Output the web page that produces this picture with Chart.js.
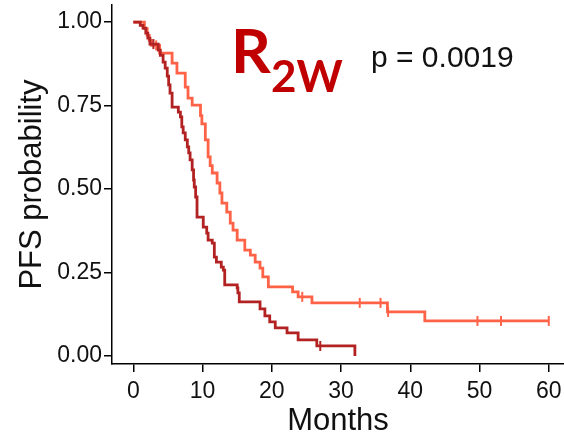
<!DOCTYPE html>
<html>
<head>
<meta charset="utf-8">
<script src="https://cdn.jsdelivr.net/npm/chart.js@4.4.0/dist/chart.umd.min.js"></script>
<style>
  body { margin: 0; background: #fff; }
  canvas { display: block; }
</style>
</head>
<body>
<canvas id="km" width="564" height="438"></canvas>
<script>
// Groupe 1 (rouge foncé) : temps des événements (mois) et survie sans progression
const moisA = [0, 1.0, 1.4, 1.8, 2.1, 2.4, 3.6, 3.9, 4.3, 4.6, 4.9, 5.1, 5.3, 5.6, 6.5, 6.8, 7.0, 7.2, 7.5, 7.8, 8.0, 8.2, 8.5, 8.7, 8.8, 9.0, 9.2, 10.1, 10.6, 10.8, 11.4, 11.7, 12.0, 12.7, 13.0, 13.2, 15.0, 15.1, 15.3, 18.3, 19.0, 19.7, 20.5, 22.2, 23.8, 26.5, 32.0];
const survieA = [1.0, 0.99, 0.982, 0.967, 0.952, 0.934, 0.916, 0.90, 0.88, 0.862, 0.838, 0.812, 0.787, 0.745, 0.73, 0.716, 0.686, 0.668, 0.647, 0.626, 0.608, 0.587, 0.557, 0.527, 0.506, 0.476, 0.416, 0.386, 0.368, 0.347, 0.338, 0.296, 0.281, 0.266, 0.257, 0.213, 0.204, 0.189, 0.162, 0.141, 0.12, 0.102, 0.084, 0.069, 0.048, 0.03, 0.0];
const censureMoisA = [2.9, 27.0];
const censureSurvieA = [0.934, 0.03];

// Groupe 2 (orange)
const moisB = [0, 1.6, 2.0, 2.3, 2.6, 3.8, 5.6, 6.3, 7.5, 7.9, 8.5, 9.7, 9.9, 10.4, 10.8, 11.1, 11.4, 12.1, 12.5, 12.8, 13.5, 14.0, 14.4, 15.0, 16.1, 16.9, 17.6, 18.3, 18.7, 19.5, 23.0, 23.8, 25.8, 36.7, 42.1, 60.0];
const survieB = [1.0, 0.98, 0.96, 0.945, 0.93, 0.907, 0.877, 0.847, 0.805, 0.772, 0.751, 0.72, 0.695, 0.647, 0.596, 0.57, 0.548, 0.518, 0.488, 0.458, 0.431, 0.398, 0.377, 0.347, 0.317, 0.302, 0.281, 0.263, 0.237, 0.207, 0.192, 0.177, 0.159, 0.132, 0.105, 0.105];
const censureMoisB = [3.3, 24.4, 32.7, 35.7, 36.8, 49.7, 53.1, 60.0];
const censureSurvieB = [0.93, 0.177, 0.159, 0.159, 0.132, 0.105, 0.105, 0.105];

// Graduations des axes
const ticksX = [0, 10, 20, 30, 40, 50, 60];
const ticksY = [0, 0.25, 0.5, 0.75, 1];

const couleurA = '#B22222';
const couleurB = '#FF6347';

function versPoints(xs, ys) {
  return xs.map((x, i) => ({ x: x, y: ys[i] }));
}

// Titre R2W et valeur de p
const textes = {
  id: 'textes',
  afterDraw(chart) {
    const ctx = chart.ctx;
    ctx.save();
    ctx.textBaseline = 'alphabetic';
    ctx.textAlign = 'left';
    ctx.fillStyle = '#C00000';
    ctx.font = 'bold 62px Lato';
    ctx.fillText('R', 231, 73);
    ctx.font = 'bold 44px Lato';
    ctx.fillText('2W', 271, 92);
    ctx.fillStyle = '#111';
    ctx.font = '30px "Liberation Sans"';
    ctx.fillText('p = 0.0019', 371, 67);
    ctx.restore();
  }
};

const police = '"Liberation Sans", Arial, sans-serif';

new Chart(document.getElementById('km'), {
  type: 'line',
  data: {
    datasets: [
      {
        data: versPoints(moisA, survieA),
        borderColor: couleurA,
        borderWidth: 2.8,
        stepped: true,
        pointRadius: 0
      },
      {
        data: versPoints(censureMoisA, censureSurvieA),
        showLine: false,
        pointStyle: 'line',
        rotation: 90,
        pointRadius: 5,
        borderWidth: 2,
        borderColor: couleurA
      },
      {
        data: versPoints(moisB, survieB),
        borderColor: couleurB,
        borderWidth: 2.8,
        stepped: true,
        pointRadius: 0
      },
      {
        data: versPoints(censureMoisB, censureSurvieB),
        showLine: false,
        pointStyle: 'line',
        rotation: 90,
        pointRadius: 5,
        borderWidth: 2,
        borderColor: couleurB
      }
    ]
  },
  options: {
    responsive: false,
    animation: false,
    layout: { autoPadding: false, padding: { top: 5, right: 0, left: 0, bottom: 0 } },
    plugins: {
      legend: { display: false },
      tooltip: { enabled: false }
    },
    scales: {
      x: {
        type: 'linear',
        min: -3.08,
        max: 62.2,
        afterBuildTicks: (scale) => { scale.ticks = ticksX.map(v => ({ value: v })); },
        afterFit: (scale) => { scale.height = 74; scale.paddingLeft = 0; scale.paddingRight = 0; },
        grid: { drawOnChartArea: false, color: '#000', lineWidth: 1.5, tickLength: 8 },
        border: { display: true, color: '#000', width: 1.5 },
        ticks: { color: '#111', padding: 6, maxRotation: 0, font: { family: police, size: 23 } },
        title: { display: true, text: 'Months', color: '#111', padding: { top: 0, bottom: 1.5 }, font: { family: police, size: 31, lineHeight: 1 } }
      },
      y: {
        min: -0.024,
        max: 1.051,
        afterBuildTicks: (scale) => { scale.ticks = ticksY.map(v => ({ value: v })); },
        afterFit: (scale) => { scale.width = 112; scale.paddingTop = 0; scale.paddingBottom = 0; },
        grid: { drawOnChartArea: false, color: '#000', lineWidth: 1.5, tickLength: 8 },
        border: { display: true, color: '#000', width: 1.5 },
        ticks: { color: '#111', padding: 2, font: { family: police, size: 23 }, callback: (v) => v.toFixed(2) },
        title: { display: true, text: 'PFS probability', color: '#111', padding: { top: 17, bottom: 0 }, font: { family: police, size: 31, lineHeight: 1 } }
      }
    }
  },
  plugins: [textes]
});
</script>
</body>
</html>
